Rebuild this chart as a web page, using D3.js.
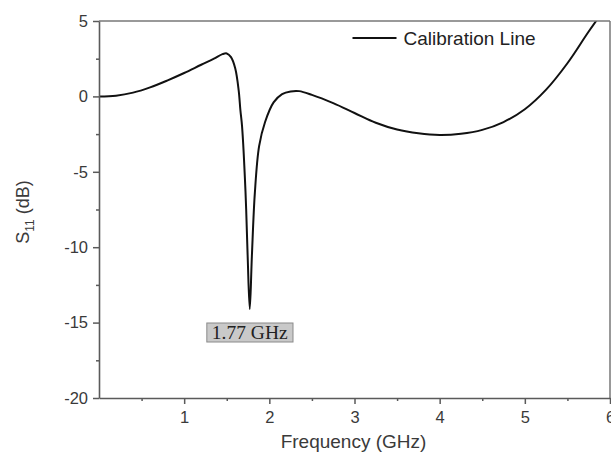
<!DOCTYPE html>
<html>
<head>
<meta charset="utf-8">
<script src="https://cdn.jsdelivr.net/npm/d3@7"></script>
<style>
  body { margin: 0; background: #fff; }
  svg { display: block; font-family: "Liberation Sans", Arial, sans-serif; }
</style>
</head>
<body>
<div id="chart"></div>
<script>
// S11 of calibration line
const freqGHz = [0, 0.2, 0.4, 0.6, 0.8, 1.0, 1.2, 1.35, 1.45, 1.5, 1.55, 1.6, 1.64, 1.66, 1.68, 1.72, 1.745, 1.77,
    1.795, 1.83, 1.88, 1.95, 2.05, 2.15, 2.25, 2.35, 2.5, 2.75, 3.0, 3.25, 3.5, 3.75, 4.0, 4.25, 4.5, 4.75,
    5.0, 5.25, 5.5, 5.75, 6.0];
const s11dB = [0, 0.05, 0.25, 0.6, 1.05, 1.55, 2.1, 2.5, 2.8, 2.85, 2.6, 1.85, 0.4, -0.9, -2.0, -6.3, -10.5, -14.1,
    -10.6, -6.4, -3.3, -1.7, -0.4, 0.15, 0.33, 0.35, 0.1, -0.45, -1.1, -1.75, -2.2, -2.45, -2.56, -2.48, -2.22, -1.7,
    -0.85, 0.45, 2.2, 4.3, 6.3];
const xTicks = [1, 2, 3, 4, 5, 6];
const xMinor = [0.5, 1.5, 2.5, 3.5, 4.5, 5.5];
const yTicks = [5, 0, -5, -10, -15, -20];
const yMinor = [2.5, -2.5, -7.5, -12.5, -17.5];
const resonance = { f: 1.77, label: "1.77 GHz" };
const seriesName = "Calibration Line";

const W = 611, H = 464;
const margin = { top: 21, right: 1, bottom: 66, left: 99 };
const width = W - margin.left - margin.right;
const height = H - margin.top - margin.bottom;

const svg = d3.select("#chart").append("svg")
    .attr("width", W)
    .attr("height", H);

const g = svg.append("g")
    .attr("transform", `translate(${margin.left},${margin.top})`);

const x = d3.scaleLinear().domain([0, 6]).range([0, width]);
const y = d3.scaleLinear().domain([-20, 5]).range([height, 0]);

const axisColor = "#5a5a5a";
const textColor = "#3a3a3a";
const sans = "'Liberation Sans', Arial, sans-serif";

svg.append("clipPath").attr("id", "plot-clip")
    .append("rect").attr("width", width).attr("height", height);

// curve
const data = freqGHz.map((f, i) => ({ f: f, v: s11dB[i] }));
const line = d3.line()
    .x(d => x(d.f))
    .y(d => y(d.v))
    .curve(d3.curveCatmullRom.alpha(0.5));

g.append("path")
    .datum(data)
    .attr("clip-path", "url(#plot-clip)")
    .attr("fill", "none")
    .attr("stroke", "#111")
    .attr("stroke-width", 2)
    .attr("d", line);

// frame top/right
g.append("line").attr("x1", 0).attr("x2", width).attr("y1", 0).attr("y2", 0)
    .attr("stroke", "#777").attr("stroke-width", 1.5);
g.append("line").attr("x1", width).attr("x2", width).attr("y1", 0).attr("y2", height)
    .attr("stroke", "#777").attr("stroke-width", 1.5);

// minor ticks
g.append("g")
    .attr("transform", `translate(0,${height})`)
    .call(d3.axisBottom(x).tickValues(xMinor).tickSize(3).tickFormat(""))
    .call(a => a.select(".domain").remove())
    .selectAll("line").attr("stroke", axisColor).attr("stroke-width", 1.5);
g.append("g")
    .call(d3.axisLeft(y).tickValues(yMinor).tickSize(3).tickFormat(""))
    .call(a => a.select(".domain").remove())
    .selectAll("line").attr("stroke", axisColor).attr("stroke-width", 1.5);

// major axes
const xAxis = g.append("g")
    .attr("transform", `translate(0,${height})`)
    .call(d3.axisBottom(x).tickValues(xTicks).tickSize(6).tickSizeOuter(0).tickPadding(7).tickFormat(d => String(d)));
const yAxis = g.append("g")
    .call(d3.axisLeft(y).tickValues(yTicks).tickSize(6).tickSizeOuter(0).tickPadding(5).tickFormat(d => String(d)));

[xAxis, yAxis].forEach(a => {
    a.attr("font-family", sans).attr("font-size", 16.5);
    a.select(".domain").attr("stroke", axisColor).attr("stroke-width", 1.6);
    a.selectAll(".tick line").attr("stroke", axisColor).attr("stroke-width", 1.5);
    a.selectAll(".tick text").attr("fill", textColor);
});

// axis titles
svg.append("text")
    .attr("x", margin.left + x(3) - 1)
    .attr("y", 448)
    .attr("text-anchor", "middle")
    .attr("fill", textColor)
    .style("font-size", "19px")
    .text("Frequency (GHz)");

const yTitle = svg.append("text")
    .attr("transform", "translate(29,212) rotate(-90)")
    .attr("text-anchor", "middle")
    .attr("fill", textColor)
    .style("font-size", "18px");
yTitle.append("tspan").text("S");
yTitle.append("tspan").attr("dy", 5).style("font-size", "12px").text("11");
yTitle.append("tspan").attr("dy", -5).text(" (dB)");

// legend
const legend = g.append("g").attr("transform", `translate(${x(3.0) - 2},17)`);
legend.append("line")
    .attr("x1", 0).attr("x2", 44)
    .attr("stroke", "#111").attr("stroke-width", 2);
legend.append("text")
    .attr("x", 51).attr("y", 7)
    .attr("fill", "#222")
    .style("font-size", "19px")
    .text(seriesName);

// resonance annotation
const ann = g.append("g").attr("transform", `translate(${x(resonance.f)},0)`);
const annText = ann.append("text")
    .attr("x", 0).attr("y", 318)
    .attr("text-anchor", "middle")
    .attr("fill", "#222")
    .style("font-family", "'Liberation Serif', 'Times New Roman', serif")
    .style("font-size", "19.5px")
    .text(resonance.label);
const bb = annText.node().getBBox();
ann.insert("rect", "text")
    .attr("x", bb.x - 5).attr("y", 302)
    .attr("width", bb.width + 10).attr("height", 19)
    .attr("fill", "#c9c9c9")
    .attr("stroke", "#8a8a8a")
    .attr("stroke-width", 1);
</script>
</body>
</html>
